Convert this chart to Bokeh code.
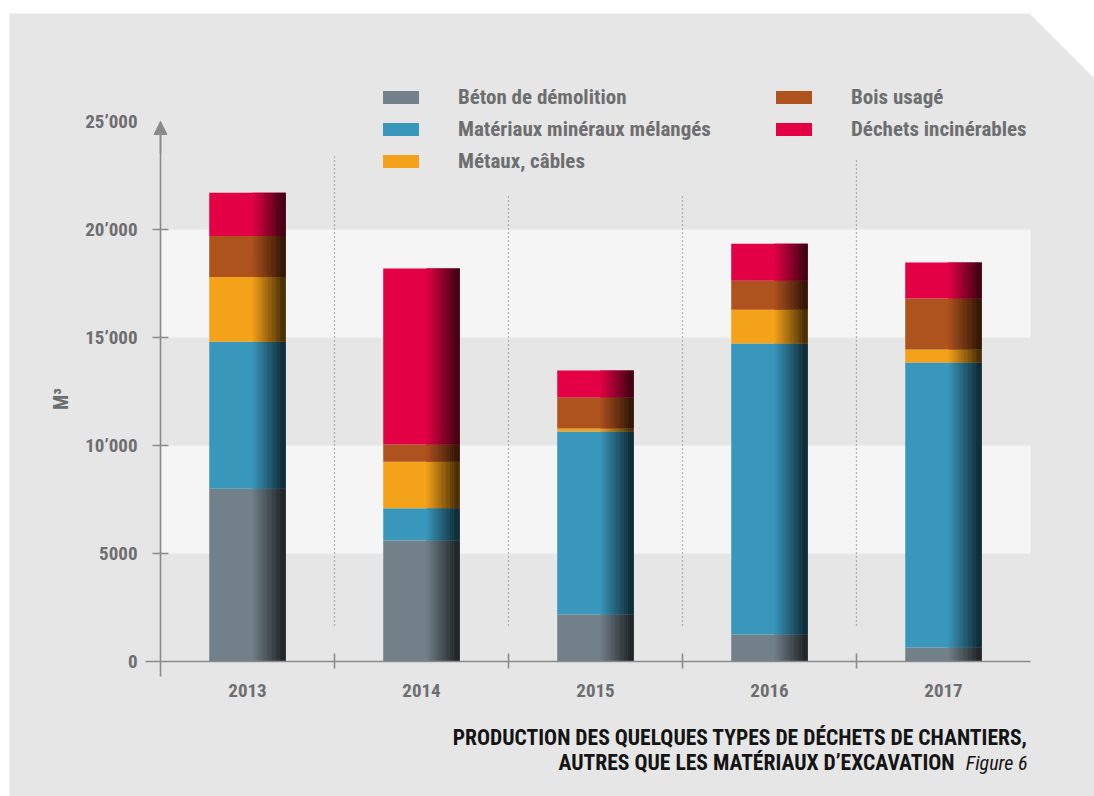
import subprocess
from bokeh.plotting import figure
from bokeh.models import (Range1d, LinearAxis, FixedTicker, Legend, LegendItem,
                          Label, Arrow, NormalHead)
from bokeh.embed import file_html
from bokeh.resources import INLINE

# ---------------- data ----------------
years = ["2013", "2014", "2015", "2016", "2017"]
series_names = ["Béton de démolition", "Matériaux minéraux mélangés", "Métaux, câbles",
                "Bois usagé", "Déchets incinérables"]
beton = [8000, 5600, 2180, 1250, 650]
materiaux = [6800, 1500, 8470, 13470, 13190]
metaux = [3000, 2150, 140, 1570, 600]
bois = [1900, 800, 1430, 1340, 2360]
dechets = [2000, 8150, 1250, 1710, 1670]
series_values = [beton, materiaux, metaux, bois, dechets]
series_colors = ["#72808a", "#3a97bc", "#f5a21b", "#ae521e", "#e30045"]

y_ticks = [0, 5000, 10000, 15000, 20000, 25000]
y_tick_labels = ["0", "5000", "10’000", "15’000", "20’000", "25’000"]
band_bottoms = [5000, 15000]
band_tops = [10000, 20000]
sep_positions = [1, 2, 3, 4]
sep_tops = [23400, 21650, 21650, 23250]
sep_bottom = 1670

title_line1 = "PRODUCTION DES QUELQUES TYPES DE DÉCHETS DE CHANTIERS,"
title_line2 = "AUTRES QUE LES MATÉRIAUX D’EXCAVATION"
figure_tag = "Figure 6"


def pick_font():
    try:
        out = subprocess.run(["fc-list", ":", "family"], capture_output=True, text=True).stdout
    except Exception:
        out = ""
    for f in ["Liberation Sans Narrow", "Roboto Condensed", "DejaVu Sans Condensed"]:
        if f in out:
            return f
    return "Roboto"


FONT = pick_font()
BG = "#e6e6e6"
BAND = "#f5f5f5"
AX = "#8a8a8a"
TXT = "#6d6e70"

W, H = 1094, 796
X0_PX, Y0_PX = 160.0, 661.0      # pixel position of the chart origin
CAT_PX = 174.0                   # pixels per category
Y_PX_PER_UNIT = 540.0 / 25000.0  # pixels per m3


def px2x(px):
    return (px - X0_PX) / CAT_PX


def px2y(py):
    return (Y0_PX - py) / Y_PX_PER_UNIT


p = figure(width=W, height=H, output_backend="svg", toolbar_location=None,
           x_range=Range1d(px2x(0), px2x(W)), y_range=Range1d(px2y(H), px2y(0)),
           x_axis_location=None, y_axis_location=None,
           min_border_left=0, min_border_right=0, min_border_top=0, min_border_bottom=0,
           background_fill_color="white", border_fill_color="white", outline_line_color=None)
p.grid.visible = False

# grey panel with cut corner
p.patch(x=[px2x(9), px2x(1029), px2x(W + 2), px2x(W + 2), px2x(9)],
        y=[px2y(13), px2y(13), px2y(80), px2y(H + 2), px2y(H + 2)],
        fill_color=BG, line_color=None)

# bands
p.quad(left=0, right=len(years), bottom=band_bottoms, top=band_tops,
       fill_color=BAND, line_color=None)

# separators
p.segment(x0=sep_positions, x1=sep_positions, y0=[sep_bottom] * 4, y1=sep_tops,
          line_color="#7a7a7a", line_width=1.3, line_dash="1 3")

# bars: flat part + shaded slices on the right side
xc = [i + 0.5 for i in range(len(years))]
BW = 0.44
FLAT = 0.56
NS = 26
bottoms = [0] * len(years)
renderers = []
g_left, g_right, g_bot, g_top, g_col = [], [], [], [], []


def shade(hexcol, f):
    r, g, b = int(hexcol[1:3], 16), int(hexcol[3:5], 16), int(hexcol[5:7], 16)
    return "#%02x%02x%02x" % (int(r * f), int(g * f), int(b * f))


dw = (1 - FLAT) * BW / NS
ov = 0.4 / CAT_PX
for vals, col in zip(series_values, series_colors):
    tops = [b + v for b, v in zip(bottoms, vals)]
    r = p.vbar(x=xc, width=BW, bottom=bottoms, top=tops, fill_color=col, line_color=None)
    renderers.append(r)
    for k in range(NS):
        t = (k + 0.5) / NS
        f = 1.0 - 0.78 * t
        for c, b0, t0 in zip(xc, bottoms, tops):
            start = c - BW / 2 + FLAT * BW
            g_left.append(start + k * dw)
            g_right.append(min(start + (k + 1) * dw + ov, c + BW / 2))
            g_bot.append(b0)
            g_top.append(t0)
            g_col.append(shade(col, f))
    bottoms = tops

p.quad(left=g_left, right=g_right, bottom=g_bot, top=g_top, fill_color=g_col, line_color=None)

# axes (fixed at the origin)
yaxis = LinearAxis(fixed_location=0,
                   ticker=FixedTicker(ticks=y_ticks, minor_ticks=y_ticks[1:-1]),
                   major_label_overrides=dict(zip(y_ticks, y_tick_labels)),
                   bounds=(px2y(Y0_PX + 15), 25000), axis_label="M³",
                   major_tick_in=0, major_tick_out=0, minor_tick_in=8, minor_tick_out=8,
                   minor_tick_line_color=AX, minor_tick_line_width=1.6,
                   axis_line_color=AX, axis_line_width=1.6,
                   major_label_standoff=15,
                   major_label_text_font=FONT, major_label_text_font_style="bold",
                   major_label_text_font_size="19px", major_label_text_color=TXT,
                   axis_label_text_font=FONT, axis_label_text_font_style="bold",
                   axis_label_text_font_size="20px", axis_label_text_color=TXT,
                   axis_label_standoff=9)
p.add_layout(yaxis, "left")

xaxis = LinearAxis(fixed_location=0,
                   ticker=FixedTicker(ticks=xc, minor_ticks=list(range(1, len(years)))),
                   major_label_overrides=dict(zip(xc, years)),
                   bounds=(px2x(X0_PX - 15), len(years)),
                   major_tick_in=0, major_tick_out=0, minor_tick_in=8, minor_tick_out=7,
                   minor_tick_line_color=AX, minor_tick_line_width=1.6,
                   axis_line_color=AX, axis_line_width=1.6,
                   major_label_standoff=15,
                   major_label_text_font=FONT, major_label_text_font_style="bold",
                   major_label_text_font_size="19px", major_label_text_color=TXT)
p.add_layout(xaxis, "below")

p.add_layout(Arrow(end=NormalHead(size=13, fill_color=AX, line_color=AX, line_width=1),
                   x_start=0, y_start=23500, x_end=0, y_end=25000,
                   line_color=AX, line_width=1.6))

# legend
legend = Legend(items=[LegendItem(label=n, renderers=[r]) for n, r in zip(series_names, renderers)],
                location=(378, 623), orientation="vertical", nrows=3,
                glyph_width=45, glyph_height=16, label_standoff=35, spacing=8,
                label_width=305, label_height=24, padding=0, margin=0,
                border_line_alpha=0, background_fill_alpha=0,
                label_text_font=FONT, label_text_font_style="bold",
                label_text_font_size="21px", label_text_color=TXT,
                label_text_baseline="middle")
p.add_layout(legend)

# caption
p.add_layout(Label(x=1027, y=H - 737, x_units="screen", y_units="screen", text=title_line1,
                   text_align="right", text_baseline="middle", text_font=FONT,
                   text_font_style="bold", text_font_size="21.6px", text_color="#141414"))
p.add_layout(Label(x=954, y=H - 762, x_units="screen", y_units="screen", text=title_line2,
                   text_align="right", text_baseline="middle", text_font=FONT,
                   text_font_style="bold", text_font_size="21.6px", text_color="#141414"))
p.add_layout(Label(x=1027, y=H - 762, x_units="screen", y_units="screen", text=figure_tag,
                   text_align="right", text_baseline="middle", text_font=FONT,
                   text_font_style="italic", text_font_size="20px", text_color="#141414"))

open("out.html", "w").write(file_html(p, INLINE))
